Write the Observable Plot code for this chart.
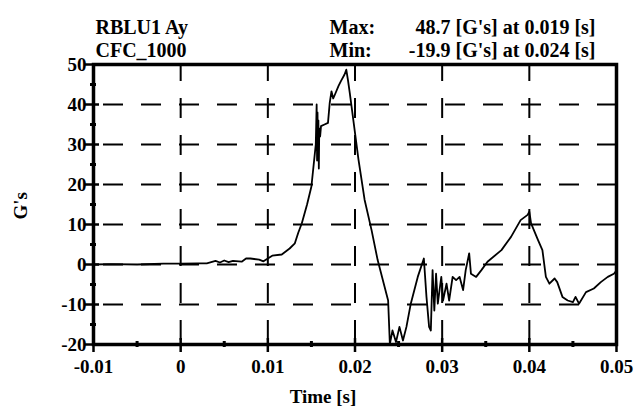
<!DOCTYPE html>
<html>
<head>
<meta charset="utf-8">
<script src="https://cdn.jsdelivr.net/npm/d3@7"></script>
<script src="https://cdn.jsdelivr.net/npm/@observablehq/plot@0.6"></script>
<style>
  html, body { margin: 0; padding: 0; background: #fff; }
</style>
</head>
<body>
<div id="chart"></div>
<script>
// ---- data ----
const time = [
  -0.01, -0.008, -0.005, -0.002, 0, 0.002, 0.003, 0.004, 0.0045, 0.005,
  0.0055, 0.006, 0.007, 0.0075, 0.008, 0.009, 0.0095, 0.010, 0.0105, 0.0116,
  0.0125, 0.0131, 0.0135, 0.0139, 0.0145, 0.015, 0.0154, 0.0155, 0.0156, 0.01565,
  0.0157, 0.01575, 0.0158, 0.01585, 0.0159, 0.016, 0.0161, 0.0165, 0.0169, 0.0171,
  0.0173, 0.0175, 0.0177, 0.0181, 0.0184, 0.0188, 0.019, 0.0192, 0.0194, 0.0196,
  0.0204, 0.0211, 0.0219, 0.0226, 0.0234, 0.0238, 0.024, 0.0243, 0.0247, 0.0251,
  0.0255, 0.0259, 0.0264, 0.0272, 0.0279, 0.0282, 0.0285, 0.0287, 0.0289, 0.0291,
  0.0293, 0.0295, 0.0299, 0.0301, 0.0305, 0.0308, 0.0312, 0.0316, 0.032, 0.0324,
  0.0327, 0.0331, 0.0333, 0.0339, 0.0345, 0.0352, 0.0368, 0.0379, 0.039, 0.0398,
  0.04, 0.0402, 0.041, 0.0415, 0.0419, 0.0423, 0.0429, 0.0432, 0.0438, 0.0444,
  0.045, 0.0453, 0.0457, 0.0465, 0.0474, 0.0482, 0.049, 0.0497, 0.05
];
const gs = [
  0, 0.1, 0, 0.2, 0.2, 0.3, 0.3, 0.9, 0.5, 1.0,
  0.6, 0.9, 0.7, 1.5, 1.5, 1.2, 0.8, 1.5, 2.2, 2.5,
  4, 5.3, 8, 10.3, 15, 19.5, 27.9, 30, 40, 26,
  38, 28, 36, 24, 34, 32, 34.6, 35, 35.4, 40.4,
  43.3, 41.5, 42.5, 44.6, 45.9, 47.5, 48.7, 46, 42.9, 39.6,
  26.2, 16.2, 8.6, 1.1, -5.6, -9.0, -19.9, -16.5, -19.4, -15.6,
  -19, -15.6, -9.8, -3.1, 1.5, -8.1, -15.6, -16.5, -1.4, -11.5,
  -2.3, -9.8, -3.1, -9.0, -4.8, -9.0, -3.1, -3.9, -3.1, -6.4,
  -1.4, 2.8, -2.3, -3.1, -1.4, 0.7, 3.6, 6.9, 11.1, 12.4,
  13.2, 10.3, 6.1, 3.6, -3.1, -4.8, -3.5, -4.4, -8.1, -9.0,
  -9.4, -8.1, -9.8, -6.9, -6.0, -4.4, -3.1, -2.3, -1.5
];

const xTicks = [-0.01, 0, 0.01, 0.02, 0.03, 0.04, 0.05];
const xMinor = [-0.005, 0.005, 0.015, 0.025, 0.035, 0.045];
const yTicks = [-20, -10, 0, 10, 20, 30, 40, 50];
const yMinor = [-15, -5, 5, 15, 25, 35, 45];
const xGrid = [0, 0.01, 0.02, 0.03, 0.04];
const yGrid = [-10, 0, 10, 20, 30, 40];

const titleLeft = ["RBLU1 Ay", "CFC_1000"];
const statLabels = ["Max:", "Min:"];
const statValues = ["48.7 [G's] at 0.019 [s]", "-19.9 [G's] at 0.024 [s]"];
const xLabel = "Time [s]";
const yLabel = "G's";

// ---- build ----
const series = time.map((t, i) => ({t, v: gs[i]}));
const W = 636, H = 410, ML = 93, MR = 20, MT = 64, MB = 66;
const FW = W - ML - MR, FH = H - MT - MB;
const font = "'Liberation Serif', 'Times New Roman', serif";

const chart = Plot.plot({
  width: W, height: H,
  marginLeft: ML, marginRight: MR, marginTop: MT, marginBottom: MB,
  x: {domain: [-0.01, 0.05]},
  y: {domain: [-20, 50]},
  style: {fontFamily: font, fontSize: "19px", fontWeight: "bold", color: "black", background: "white"},
  marks: [
    Plot.ruleY(yGrid, {y: d => d, stroke: "black", strokeWidth: 2, strokeDasharray: "20,18", strokeDashoffset: 28}),
    Plot.ruleX(xGrid, {x: d => d, stroke: "black", strokeWidth: 2, strokeDasharray: "20,17", strokeDashoffset: 3}),
    Plot.line(series, {x: "t", y: "v", stroke: "black", strokeWidth: 1.8}),
    Plot.frame({stroke: "black", strokeWidth: 3.5}),
    // major / minor ticks crossing the axes
    Plot.tickX(xTicks, {x: d => d, stroke: "black", strokeWidth: 2.5, insetTop: FH - 6, insetBottom: -8}),
    Plot.tickX(xMinor, {x: d => d, stroke: "black", strokeWidth: 3, insetTop: FH - 3, insetBottom: -3}),
    Plot.tickY(yTicks, {y: d => d, stroke: "black", strokeWidth: 2.5, insetRight: FW - 6, insetLeft: -8}),
    Plot.tickY(yMinor, {y: d => d, stroke: "black", strokeWidth: 3, insetRight: FW - 3, insetLeft: -3}),
    Plot.axisX({ticks: xTicks, tickSize: 0, tickPadding: 15, tickFormat: d => String(d), label: null, fontSize: 19}),
    Plot.axisY({ticks: yTicks, tickSize: 0, tickPadding: 7, tickFormat: d => String(d), label: null, fontSize: 19}),
    // axis titles
    Plot.text([xLabel], {text: d => d, frameAnchor: "bottom", dx: -32, dy: 58, lineAnchor: "bottom", fontSize: 19}),
    Plot.text([yLabel], {text: d => d, frameAnchor: "left", rotate: -90, dx: -73, dy: 15, fontSize: 19}),
    // header texts
    Plot.text([titleLeft[0]], {text: d => d, frameAnchor: "top-left", textAnchor: "start", lineAnchor: "bottom", dx: 2, dy: -31, fontSize: 20}),
    Plot.text([titleLeft[1]], {text: d => d, frameAnchor: "top-left", textAnchor: "start", lineAnchor: "bottom", dx: 2, dy: -8, fontSize: 20}),
    Plot.text([statLabels[0]], {text: d => d, frameAnchor: "top-left", textAnchor: "start", lineAnchor: "bottom", dx: 236, dy: -31, fontSize: 20}),
    Plot.text([statLabels[1]], {text: d => d, frameAnchor: "top-left", textAnchor: "start", lineAnchor: "bottom", dx: 236, dy: -8, fontSize: 20}),
    Plot.text([statValues[0]], {text: d => d, frameAnchor: "top-right", textAnchor: "end", lineAnchor: "bottom", dx: -21, dy: -31, fontSize: 20}),
    Plot.text([statValues[1]], {text: d => d, frameAnchor: "top-right", textAnchor: "end", lineAnchor: "bottom", dx: -21, dy: -8, fontSize: 20})
  ]
});
document.getElementById("chart").append(chart);
</script>
</body>
</html>
